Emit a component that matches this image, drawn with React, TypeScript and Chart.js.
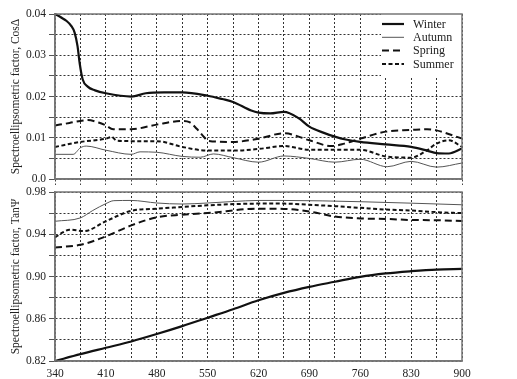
import React, { useEffect, useRef } from 'react';
import { Chart, registerables } from 'chart.js';

Chart.register(...registerables);

const FONT = '"Liberation Serif", "Times New Roman", serif';

// ---- Wavelength axis (nm) ----
const WAVE_MIN = 340;
const WAVE_MAX = 900;
const WAVE_STEP = 35;
const WAVE_LABEL_STEP = 70;

// ---- Top panel: CosΔ ----
const COS_MIN = 0;
const COS_MAX = 0.04;
const COS_STEP = 0.005;

const winterCosX = [340, 348, 356, 362, 367, 371, 374, 378, 385, 395, 410, 445, 465, 490, 515, 550, 570, 585, 610, 620, 636, 655, 675, 690, 710, 725, 740, 760, 795, 830, 852, 865, 882, 900];
const winterCosY = [0.0400, 0.0392, 0.0383, 0.0372, 0.0355, 0.0322, 0.0280, 0.0242, 0.0224, 0.0215, 0.0208, 0.0200, 0.0208, 0.0210, 0.0210, 0.0202, 0.0194, 0.0187, 0.0166, 0.0161, 0.0159, 0.0163, 0.0148, 0.0127, 0.0112, 0.0103, 0.0096, 0.0090, 0.0084, 0.0078, 0.0069, 0.0063, 0.0062, 0.0074];

const autumnCosX = [340, 365, 375, 383, 410, 445, 457, 480, 515, 540, 558, 585, 620, 655, 690, 725, 760, 797, 830, 865, 900];
const autumnCosY = [0.0060, 0.0060, 0.0076, 0.0080, 0.0070, 0.0060, 0.0066, 0.0065, 0.0055, 0.0053, 0.0061, 0.0052, 0.0041, 0.0056, 0.0050, 0.0041, 0.0048, 0.0030, 0.0043, 0.0029, 0.0039];

const springCosX = [340, 360, 375, 385, 400, 410, 420, 445, 480, 515, 525, 535, 545, 550, 585, 620, 655, 690, 720, 738, 760, 795, 830, 852, 865, 900];
const springCosY = [0.0130, 0.0136, 0.0141, 0.0143, 0.0137, 0.0130, 0.0121, 0.0121, 0.0132, 0.0141, 0.0138, 0.0122, 0.0102, 0.0093, 0.0090, 0.0098, 0.0111, 0.0094, 0.0080, 0.0086, 0.0098, 0.0115, 0.0119, 0.0121, 0.0118, 0.0098];

const summerCosX = [340, 375, 410, 418, 425, 445, 480, 515, 550, 585, 620, 655, 690, 725, 760, 795, 830, 852, 865, 882, 900];
const summerCosY = [0.0078, 0.0090, 0.0098, 0.0102, 0.0093, 0.0092, 0.0092, 0.0078, 0.0069, 0.0069, 0.0073, 0.0080, 0.0071, 0.0071, 0.0071, 0.0055, 0.0052, 0.0070, 0.0086, 0.0094, 0.0078];

// ---- Bottom panel: TanΨ ----
const TAN_MIN = 0.82;
const TAN_MAX = 0.98;
const TAN_STEP = 0.02;

const winterTanX = [340, 375, 410, 445, 480, 515, 550, 585, 620, 655, 690, 725, 760, 795, 830, 865, 900];
const winterTanY = [0.820, 0.8265, 0.8325, 0.8385, 0.8455, 0.8530, 0.8610, 0.8690, 0.8775, 0.8845, 0.8902, 0.8950, 0.8997, 0.9029, 0.9050, 0.9066, 0.9072];

const autumnTanX = [340, 375, 392, 410, 421, 445, 480, 515, 550, 585, 620, 655, 760, 900];
const autumnTanY = [0.9523, 0.9555, 0.9625, 0.9690, 0.9718, 0.9720, 0.9696, 0.9686, 0.9696, 0.9710, 0.9720, 0.9720, 0.9708, 0.9679];

const springTanX = [340, 375, 410, 445, 480, 515, 550, 620, 655, 690, 725, 760, 795, 830, 865, 900];
const springTanY = [0.9275, 0.9300, 0.9380, 0.9484, 0.9560, 0.9585, 0.9601, 0.9642, 0.9640, 0.9615, 0.9568, 0.9550, 0.9545, 0.9535, 0.9533, 0.9525];

const summerTanX = [340, 350, 360, 380, 410, 445, 480, 515, 550, 620, 655, 690, 725, 760, 795, 830, 865, 900];
const summerTanY = [0.9370, 0.9415, 0.9443, 0.9430, 0.9523, 0.9622, 0.9642, 0.9658, 0.9674, 0.9690, 0.9690, 0.9679, 0.9666, 0.9650, 0.9634, 0.9625, 0.9609, 0.9600];

const SERIES_NAMES = ['Winter', 'Autumn', 'Spring', 'Summer'];

const STYLES = [
  { borderColor: '#111', borderWidth: 2.2, borderDash: [] as number[] },
  { borderColor: '#555', borderWidth: 1, borderDash: [] as number[] },
  { borderColor: '#111', borderWidth: 2, borderDash: [7, 4] },
  { borderColor: '#111', borderWidth: 2, borderDash: [4, 2.5] },
];

const zip = (xs: number[], ys: number[]) => xs.map((x, i) => ({ x, y: ys[i] }));

function makeDatasets(pairs: [number[], number[]][]) {
  return pairs.map(([xs, ys], i) => ({
    label: SERIES_NAMES[i],
    data: zip(xs, ys),
    ...STYLES[i],
    pointRadius: 0,
    fill: false,
    tension: 0.4,
    cubicInterpolationMode: 'monotone' as const,
    clip: 4,
  }));
}

const framePlugin = {
  id: 'frame',
  afterDraw(chart: any) {
    const { ctx, chartArea } = chart;
    const { left, top, right, bottom } = chartArea;
    ctx.save();
    ctx.strokeStyle = '#777';
    ctx.lineWidth = 1.5;
    ctx.setLineDash([]);
    ctx.strokeRect(left, top, right - left, bottom - top);
    ctx.restore();
  },
};

const legendPlugin = {
  id: 'seasonLegend',
  afterDatasetsDraw(chart: any) {
    const { ctx, chartArea } = chart;
    const w = 81;
    const h = 62;
    const x0 = chartArea.right - w;
    const y0 = chartArea.top;
    ctx.save();
    ctx.fillStyle = '#fff';
    ctx.fillRect(x0, y0, w, h);
    chart.data.datasets.forEach((ds: any, i: number) => {
      const y = y0 + 10 + i * 13.3;
      ctx.beginPath();
      ctx.strokeStyle = ds.borderColor;
      ctx.lineWidth = ds.borderWidth;
      ctx.setLineDash(ds.borderDash || []);
      ctx.moveTo(x0 + 1, y);
      ctx.lineTo(x0 + 23, y);
      ctx.stroke();
      ctx.setLineDash([]);
      ctx.fillStyle = '#222';
      ctx.font = `12px ${FONT}`;
      ctx.textBaseline = 'middle';
      ctx.textAlign = 'left';
      ctx.fillText(ds.label, x0 + 32, y + 0.5);
    });
    ctx.restore();
  },
};

function xScale(showLabels: boolean) {
  return {
    type: 'linear' as const,
    min: WAVE_MIN,
    max: WAVE_MAX,
    grid: {
      color: '#333',
      lineWidth: 1,
      drawTicks: !showLabels,
      tickLength: 6,
      tickBorderDash: [2, 2],
      tickColor: '#444',
    },
    border: { display: true, color: '#777', width: 1.5, dash: [2, 2] },
    ticks: {
      stepSize: WAVE_STEP,
      autoSkip: false,
      maxRotation: 0,
      display: showLabels,
      padding: 6,
      color: '#222',
      font: { family: FONT, size: 11.5 },
      callback: (v: any) => ((Number(v) - WAVE_MIN) % WAVE_LABEL_STEP === 0 ? String(v) : ''),
    },
    afterFit: (s: any) => {
      s.height = showLabels ? 18 : 6;
    },
  };
}

function yScale(min: number, max: number, step: number, title: string, fmt: (v: number) => string) {
  return {
    type: 'linear' as const,
    min,
    max,
    grid: { color: '#333', lineWidth: 1, tickLength: 6, tickBorderDash: [], tickColor: '#555' },
    border: { display: true, color: '#777', width: 1.5, dash: [2, 2] },
    ticks: {
      stepSize: step,
      autoSkip: false,
      padding: 3,
      color: '#222',
      font: { family: FONT, size: 11.5 },
      callback: (v: any) => fmt(Number(v)),
    },
    title: {
      display: true,
      text: title,
      color: '#222',
      font: { family: FONT, size: 11.5 },
      padding: { top: 9, bottom: 0 },
    },
    afterFit: (s: any) => {
      s.width = 55;
    },
  };
}

const cosFmt = (v: number) => {
  const k = Math.round((v - COS_MIN) / COS_STEP);
  if (k % 2 !== 0) return '';
  return k === 0 ? '0.0' : v.toFixed(2);
};

const tanFmt = (v: number) => {
  const k = Math.round((v - TAN_MIN) / TAN_STEP);
  return k % 2 === 0 ? v.toFixed(2) : '';
};

export default function App() {
  const topRef = useRef<HTMLCanvasElement>(null);
  const botRef = useRef<HTMLCanvasElement>(null);

  useEffect(() => {
    const common = {
      responsive: false,
      animation: false as const,
      devicePixelRatio: 1,
      plugins: { legend: { display: false }, tooltip: { enabled: false } },
    };

    const top = new Chart(topRef.current!, {
      type: 'line',
      data: {
        datasets: makeDatasets([
          [winterCosX, winterCosY],
          [autumnCosX, autumnCosY],
          [springCosX, springCosY],
          [summerCosX, summerCosY],
        ]),
      },
      options: {
        ...common,
        layout: { padding: { top: 14, right: 55, bottom: 0, left: 0 } },
        scales: {
          x: xScale(false),
          y: yScale(COS_MIN, COS_MAX, COS_STEP, 'Spectroellipsometric factor, CosΔ', cosFmt),
        },
      } as any,
      plugins: [legendPlugin, framePlugin],
    });

    const bottom = new Chart(botRef.current!, {
      type: 'line',
      data: {
        datasets: makeDatasets([
          [winterTanX, winterTanY],
          [autumnTanX, autumnTanY],
          [springTanX, springTanY],
          [summerTanX, summerTanY],
        ]),
      },
      options: {
        ...common,
        layout: { padding: { top: 12, right: 55, bottom: 0, left: 0 } },
        scales: {
          x: xScale(true),
          y: yScale(TAN_MIN, TAN_MAX, TAN_STEP, 'Spectroellipsometric factor, TanΨ', tanFmt),
        },
      } as any,
      plugins: [framePlugin],
    });

    return () => {
      top.destroy();
      bottom.destroy();
    };
  }, []);

  return (
    <div style={{ position: 'fixed', left: 0, top: 0, width: 517, height: 379, background: '#fff' }}>
      <canvas
        ref={botRef}
        width={517}
        height={199}
        style={{ position: 'absolute', left: 0, top: 180, width: 517, height: 199 }}
      />
      <canvas
        ref={topRef}
        width={517}
        height={189}
        style={{ position: 'absolute', left: 0, top: 0, width: 517, height: 189 }}
      />
    </div>
  );
}
